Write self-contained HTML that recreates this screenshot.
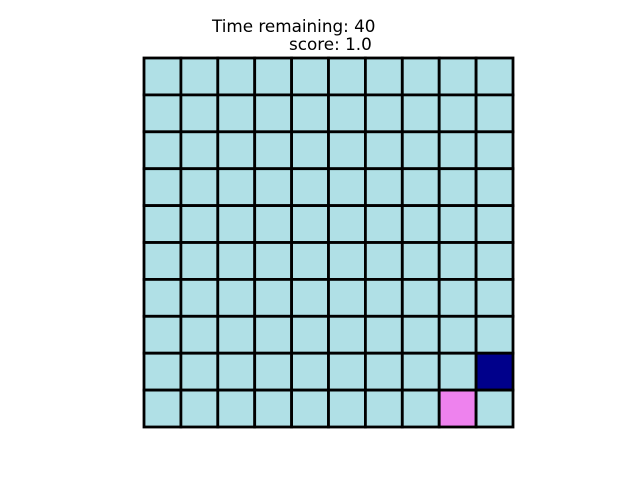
<!DOCTYPE html>
<html><head><meta charset="utf-8"><style>
body{margin:0;background:#fff;width:640px;height:480px;overflow:hidden;font-family:"DejaVu Sans","Liberation Sans",sans-serif}
.t{position:absolute;font-size:16.8px;color:#000;white-space:pre;line-height:1}
</style></head><body>
<div class="t" style="left:212px;top:18px">Time remaining: 40</div>
<div class="t" style="left:289px;top:36px">score: 1.0</div>
<svg id="g" width="640" height="480" style="position:absolute;left:0;top:0"></svg>
<script>
const rows = 10;
const cols = 10;
const specialCells = [[9,8],[8,9]]; // [row, col]
const specialColors = ["#ee82ee","#00008b"];
const x0=144,y0=58,size=369,cw=size/cols,ch=size/rows;
const svg=document.getElementById('g');
const NS='http://www.w3.org/2000/svg';
for(let r=0;r<rows;r++)for(let c=0;c<cols;c++){
  let fill='#b0e0e6';
  specialCells.forEach((s,i)=>{if(s[0]===r&&s[1]===c)fill=specialColors[i];});
  const e=document.createElementNS(NS,'rect');
  e.setAttribute('x',x0+c*cw);e.setAttribute('y',y0+r*ch);
  e.setAttribute('width',cw);e.setAttribute('height',ch);
  e.setAttribute('fill',fill);e.setAttribute('stroke','#000');e.setAttribute('stroke-width','2.8');
  
  
  svg.appendChild(e);
}
</script>
</body></html>
